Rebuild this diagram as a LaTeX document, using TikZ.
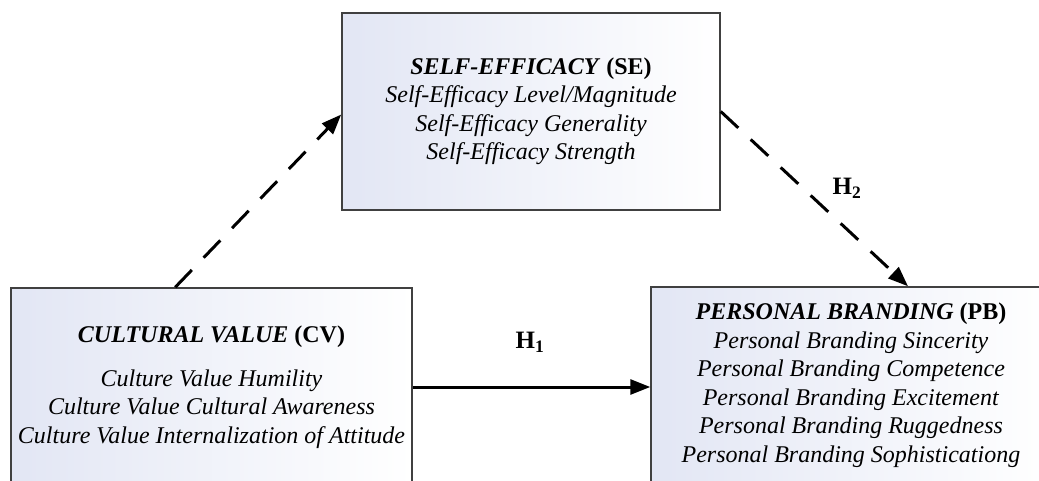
\documentclass[tikz,border=0pt]{standalone}
\usepackage{fontspec}
\setmainfont{Liberation Serif}
\usetikzlibrary{arrows.meta}
\definecolor{boxshade}{RGB}{226,230,244}
\tikzset{
  box/.style={draw=black!75, line width=1.5pt, left color=boxshade, right color=white,
    align=center, font=\fontsize{24}{28.5}\selectfont, inner sep=0pt},
  hyp/.style={line width=3pt, -{Triangle[length=20pt,width=15pt]}},
  hypdash/.style={hyp, dash pattern=on 24pt off 17pt},
  hlabel/.style={font=\fontsize{25}{28}\selectfont\bfseries},
}
\begin{document}
\begin{tikzpicture}[x=1pt,y=-1pt]
\clip (0,0) rectangle (1039,481);
\node[box, minimum width=378pt, minimum height=197pt] (se) at (531,111.5)
  {\textbf{\textit{SELF-EFFICACY}} \textbf{(SE)}\\
   \textit{Self-Efficacy Level/Magnitude}\\
   \textit{Self-Efficacy Generality}\\
   \textit{Self-Efficacy Strength}};
\node[box, minimum width=401pt, minimum height=198pt] (cv) at (211.5,387)
  {\textbf{\textit{CULTURAL VALUE}} \textbf{(CV)}\\[15pt]
   \textit{Culture Value Humility}\\
   \textit{Culture Value Cultural Awareness}\\
   \textit{Culture Value Internalization of Attitude}};
\node[box, minimum width=400pt, minimum height=196pt] (pb) at (851,385)
  {\textbf{\textit{PERSONAL BRANDING}} \textbf{(PB)}\\
   \textit{Personal Branding Sincerity}\\
   \textit{Personal Branding Competence}\\
   \textit{Personal Branding Excitement}\\
   \textit{Personal Branding Ruggedness}\\
   \textit{Personal Branding Sophisticationg}};
\draw[hypdash] ([xshift=165pt]cv.north west) -- ([yshift=-3pt]se.west);
\draw[hypdash] (se.east) -- ([xshift=57pt]pb.north);
\draw[hyp] (cv.east) -- (cv.east -| pb.west);
\node[hlabel] (h1) at (530,342) {H\textsubscript{1}};
\node[hlabel] (h2) at (847,188) {H\textsubscript{2}};
\end{tikzpicture}
\end{document}
